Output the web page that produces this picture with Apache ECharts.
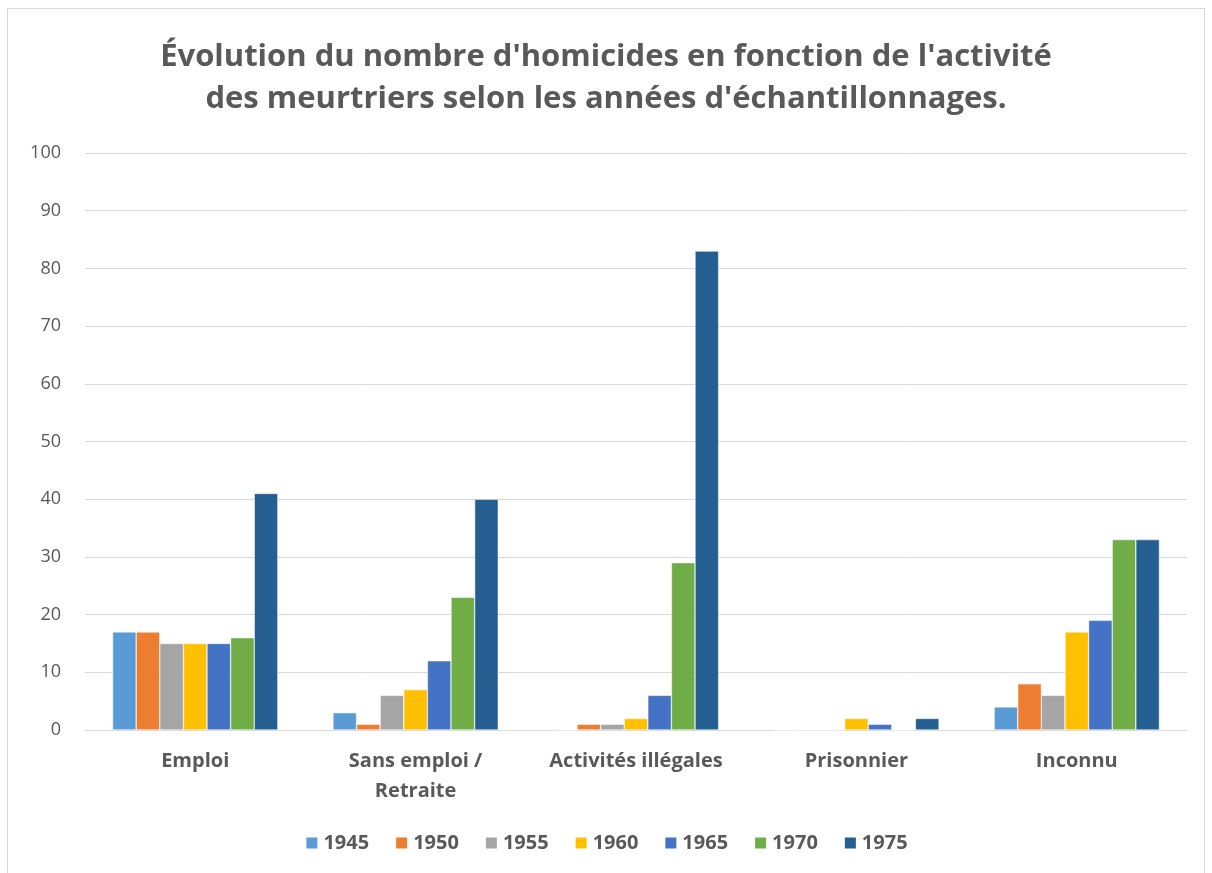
<!DOCTYPE html>
<html>
<head>
<meta charset="utf-8">
<script src="https://cdn.jsdelivr.net/npm/echarts@6/dist/echarts.min.js"></script>
<style>
  html, body { margin: 0; padding: 0; background: #fff; }
  #frame { position: absolute; left: 7px; top: 8px; width: 1198px; height: 870px; border: 1px solid #d9d9d9; box-sizing: border-box; }
  #chart { position: absolute; left: 0; top: 0; width: 1212px; height: 873px; }
</style>
</head>
<body>
<div id="frame"></div>
<div id="chart"></div>
<script>
// catégories (activité des meurtriers)
const categories = ['Emploi', 'Sans emploi / Retraite', 'Activités illégales', 'Prisonnier', 'Inconnu']
// années d'échantillonnage
const years = ['1945', '1950', '1955', '1960', '1965', '1970', '1975']
// valeurs par année, dans l'ordre des catégories
const v1945 = [17, 3, 0, 0, 4]
const v1950 = [17, 1, 1, 0, 8]
const v1955 = [15, 6, 1, 0, 6]
const v1960 = [15, 7, 2, 2, 17]
const v1965 = [15, 12, 6, 1, 19]
const v1970 = [16, 23, 29, 0, 33]
const v1975 = [41, 40, 83, 2, 33]
const values = [v1945, v1950, v1955, v1960, v1965, v1970, v1975]
const colors = ['#5B9BD5', '#ED7D31', '#A5A5A5', '#FFC000', '#4472C4', '#70AD47', '#255E91']

const font = '"Open Sans", Lato, sans-serif'
const textColor = '#595959'

const chart = echarts.init(document.getElementById('chart'))

const seriesArr = years.map((y, i) => {
  return {
    name: y,
    type: 'bar',
    data: values[i],
    barGap: '0%',
    barCategoryGap: '25%',
    itemStyle: { color: colors[i], borderColor: '#ffffff', borderWidth: 0.5 }
  }
})

chart.setOption({
  animation: false,
  color: colors,
  title: {
    text: "Évolution du nombre d'homicides en fonction de l'activité\ndes meurtriers selon les années d'échantillonnages.",
    left: 'center',
    top: 31,
    textStyle: { fontFamily: font, fontSize: 31, fontWeight: 'bold', color: textColor, lineHeight: 42 }
  },
  legend: {
    bottom: 15,
    left: 'center',
    icon: 'rect',
    itemWidth: 13,
    itemHeight: 13,
    itemGap: 25,
    textStyle: { fontFamily: font, fontSize: 20, fontWeight: 'bold', color: textColor }
  },
  grid: { left: 85, right: 25, top: 153, bottom: 143, containLabel: false },
  xAxis: {
    type: 'category',
    data: categories,
    axisLine: { lineStyle: { color: '#d9d9d9', width: 1 } },
    axisTick: { show: false },
    axisLabel: {
      fontFamily: font,
      fontSize: 20,
      fontWeight: 'bold',
      color: textColor,
      margin: 16,
      lineHeight: 30,
      width: 200,
      overflow: 'break',
      interval: 0,
      formatter: v => v.replace(' / ', ' /\n')
    }
  },
  yAxis: {
    type: 'value',
    min: 0,
    max: 100,
    interval: 10,
    axisLine: { show: false },
    axisTick: { show: false },
    splitLine: { lineStyle: { color: '#d9d9d9', width: 1 } },
    axisLabel: { fontFamily: font, fontSize: 18, color: textColor, margin: 24 }
  },
  series: seriesArr
})
</script>
</body>
</html>
